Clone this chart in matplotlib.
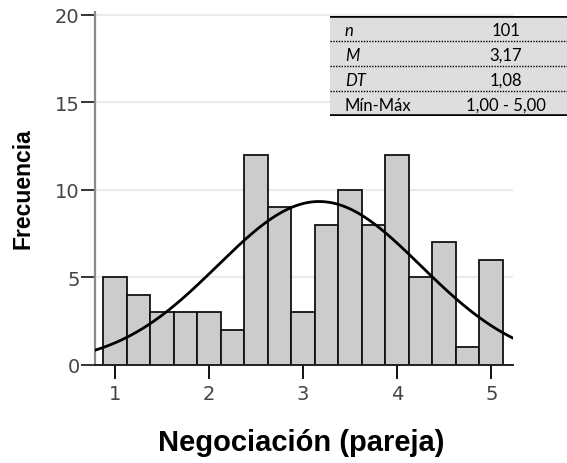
import numpy as np
import matplotlib.pyplot as plt

# histogram data (bin centres and counts)
bin_centers = [1.0, 1.25, 1.5, 1.75, 2.0, 2.25, 2.5, 2.75, 3.0,
               3.25, 3.5, 3.75, 4.0, 4.25, 4.5, 4.75, 5.0]
counts = [5, 4, 3, 3, 3, 2, 12, 9, 3, 8, 10, 8, 12, 5, 7, 1, 6]
bin_width = 0.25

# summary stats for the normal curve and the table
n_obs = 101
mean_val = 3.17
sd_val = 1.08
stat_labels = ["n", "M", "DT", "Mín-Máx"]
stat_values = ["101", "3,17", "1,08", "1,00 - 5,00"]
stat_italic = [True, True, True, False]

x_ticks = [1, 2, 3, 4, 5]
y_ticks = [0, 5, 10, 15, 20]

W, H = 567, 464
fig = plt.figure(figsize=(W / 100, H / 100), dpi=100)
ax = fig.add_axes([95 / W, (H - 365.5) / H, 417.7 / W, 353 / H])

xlim = (0.787, 5.228)
ylim = (0, 20.2)

for yt in y_ticks[1:]:
    ax.axhline(yt, color="#ebebeb", lw=1.6, zorder=0)

ax.bar(bin_centers, counts, width=bin_width, color="#cccccc",
       edgecolor="#111111", linewidth=1.3, zorder=2)

xs = np.linspace(xlim[0], xlim[1], 300)
pdf = np.exp(-0.5 * ((xs - mean_val) / sd_val) ** 2) / (sd_val * np.sqrt(2 * np.pi))
ax.plot(xs, n_obs * bin_width * pdf, color="black", lw=2.0, zorder=3)

ax.set_xlim(*xlim)
ax.set_ylim(*ylim)
ax.set_xticks(x_ticks)
ax.set_yticks(y_ticks)
ax.set_xticklabels([str(v) for v in x_ticks])
ax.set_yticklabels([str(v) for v in y_ticks])

for s in ["top", "right"]:
    ax.spines[s].set_visible(False)
ax.spines["left"].set_color("#8a8a8a")
ax.spines["left"].set_linewidth(1.6)
ax.spines["bottom"].set_color("#222222")
ax.spines["bottom"].set_linewidth(1.4)

ax.tick_params(axis="y", length=10, width=1.4, color="#333333", pad=1,
               labelsize=14, labelcolor="#444444")
ax.tick_params(axis="x", length=10, width=1.4, color="#111111", pad=4,
               labelsize=14, labelcolor="#444444")
for lab in ax.get_xticklabels() + ax.get_yticklabels():
    lab.set_family("DejaVu Sans")

fig.text(23 / W, 1 - 189 / H, "Frecuencia", rotation=90, ha="center", va="center",
         family="Liberation Sans", weight="bold", fontsize=16.5)
fig.text(301.5 / W, 1 - 443 / H, "Negociación (pareja)", ha="center", va="center",
         family="Liberation Sans", weight="bold", fontsize=21)

# stats table in the upper right corner
tab = fig.add_axes([330 / W, 1 - 117 / H, (W - 330) / W, 100 / H])
tab.set_xlim(0, 1)
tab.set_ylim(4, 0)
tab.axis("off")
tab.add_patch(plt.Rectangle((0, 0), 1, 4, color="#dedede", zorder=0))
tab.axhline(0, color="black", lw=2.6)
tab.axhline(4, color="black", lw=2.6)
for r in [1, 2, 3]:
    tab.axhline(r, color="black", lw=1.0, ls=(0, (1, 1)))
for i, (lbl, val) in enumerate(zip(stat_labels, stat_values)):
    tab.text(0.063, i + 0.55, lbl, ha="left", va="center", family="Lato",
             fontsize=12, style="italic" if stat_italic[i] else "normal")
    tab.text(0.743, i + 0.55, val, ha="center", va="center", family="Lato",
             fontsize=12)

fig.savefig("out.png", dpi=100)
